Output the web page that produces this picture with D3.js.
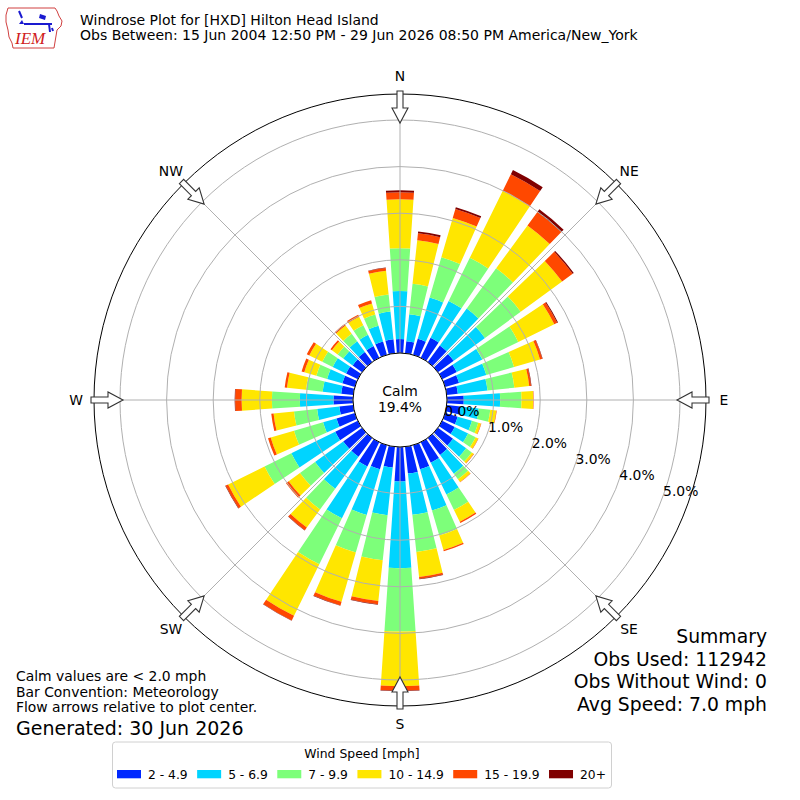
<!DOCTYPE html>
<html>
<head>
<meta charset="utf-8">
<script src="https://cdn.jsdelivr.net/npm/d3@7"></script>
<style>
  body { margin: 0; background: #fff; }
  svg { font-family: "DejaVu Sans", sans-serif; }
</style>
</head>
<body>
<svg id="chart" width="800" height="800"></svg>
<script>
// direction bins (degrees, meteorological: where the wind comes from)
const directions = d3.range(0, 360, 10);

const speedBins = ["2 - 4.9", "5 - 6.9", "7 - 9.9", "10 - 14.9", "15 - 19.9", "20+"];
const binColors = ["#0028ff", "#00d4ff", "#7dff7a", "#ffe600", "#ff4800", "#800000"];

// percent of observations in each speed bin, one value per direction (0..350)
const pct2to5 = [0.30,0.26,0.36,0.48,0.44,0.42,0.35,0.31,0.24,0.36,0.30,0.28,0.30,0.40,0.45,0.49,0.54,0.58,
                 0.74,0.45,0.54,0.58,0.50,0.50,0.54,0.41,0.30,0.42,0.26,0.28,0.28,0.25,0.27,0.28,0.30,0.30];
const pct5to7 = [1.03,0.58,0.92,0.88,0.98,0.83,0.61,0.61,0.64,0.78,0.39,0.32,0.32,0.35,0.50,0.76,0.92,0.89,
                 1.86,1.03,1.02,1.24,0.85,0.75,1.05,0.30,0.48,0.72,0.40,0.34,0.32,0.25,0.28,0.27,0.35,0.60];
const pct7to10 = [0.92,0.66,0.90,1.03,1.07,0.95,0.86,0.62,0.58,0.46,0.25,0.14,0.18,0.15,0.15,0.37,0.56,0.80,
                  1.36,0.97,0.84,1.10,0.55,0.40,0.64,0.65,0.50,0.60,0.36,0.24,0.25,0.15,0.20,0.23,0.25,0.37];
const pct10to15 = [1.05,0.94,0.88,1.60,1.14,1.10,0.86,0.58,0.32,0.25,0.13,0.06,0.06,0.05,0.07,0.28,0.32,0.54,
                   1.17,0.88,1.10,1.23,0.48,0.30,0.87,0.52,0.44,0.65,0.41,0.27,0.31,0.15,0.22,0.20,0.25,0.51];
const pct15to20 = [0.15,0.15,0.20,0.40,0.36,0.28,0.07,0.05,0.04,0.01,0.01,0.01,0.01,0.01,0.01,0.03,0.03,0.04,
                   0.10,0.07,0.08,0.11,0.07,0.07,0.06,0.06,0.05,0.14,0.05,0.06,0.06,0.04,0.04,0.05,0.07,0.06];
const pct20up = [0.04,0.04,0.04,0.10,0.07,0.03,0.02,0.01,0.01,0,0,0,0,0,0,0,0,0.01,
                 0.01,0.01,0.01,0.01,0.01,0,0.01,0,0,0.01,0,0,0,0,0,0,0,0.01];

const ringTicks = [0, 1, 2, 3, 4, 5];
const compassLabels = ["N", "NE", "E", "SE", "S", "SW", "W", "NW"];
const calmPct = 19.4;

const titleLines = [
  "Windrose Plot for [HXD] Hilton Head Island",
  "Obs Between: 15 Jun 2004 12:50 PM - 29 Jun 2026 08:50 PM America/New_York"
];
const summaryLines = ["Summary", "Obs Used: 112942", "Obs Without Wind: 0", "Avg Speed: 7.0 mph"];
const noteLines = ["Calm values are < 2.0 mph", "Bar Convention: Meteorology", "Flow arrows relative to plot center."];
const generatedText = "Generated: 30 Jun 2026";

const svg = d3.select("#chart");
const cx = 400, cy = 400;
const outerR = 306;

const r = d3.scaleLinear().domain([0, 5]).range([47, 280]);
const rad = d => d * Math.PI / 180;

// build table for stacking
const series = [pct2to5, pct5to7, pct7to10, pct10to15, pct15to20, pct20up];
const table = directions.map((d, i) => {
  const row = { dir: d };
  speedBins.forEach((b, j) => row[b] = series[j][i]);
  return row;
});
const stacked = d3.stack().keys(speedBins)(table);

const plot = svg.append("g").attr("transform", `translate(${cx},${cy})`);

const halfWidth = 3.85;
const arc = d3.arc();

plot.selectAll("g.layer")
  .data(stacked)
  .join("g")
  .attr("class", "layer")
  .attr("fill", (d, i) => binColors[i])
  .selectAll("path")
  .data(d => d)
  .join("path")
  .attr("d", d => arc({
    innerRadius: r(d[0]),
    outerRadius: r(d[1]),
    startAngle: rad(d.data.dir - halfWidth),
    endAngle: rad(d.data.dir + halfWidth)
  }));

// grid rings and spokes
plot.selectAll("circle.ring")
  .data(ringTicks)
  .join("circle")
  .attr("class", "ring")
  .attr("r", d => r(d))
  .attr("fill", "none")
  .attr("stroke", "#b0b0b0")
  .attr("stroke-width", 1);

plot.selectAll("line.spoke")
  .data(d3.range(0, 360, 45))
  .join("line")
  .attr("x1", d => r(0) * Math.sin(rad(d)))
  .attr("y1", d => -r(0) * Math.cos(rad(d)))
  .attr("x2", d => outerR * Math.sin(rad(d)))
  .attr("y2", d => -outerR * Math.cos(rad(d)))
  .attr("stroke", "#b0b0b0")
  .attr("stroke-width", 1);

// calm circle
plot.append("circle")
  .attr("r", r(0))
  .attr("fill", "#fff")
  .attr("stroke", "#000")
  .attr("stroke-width", 1);

plot.append("text")
  .attr("text-anchor", "middle")
  .attr("y", -4)
  .style("font-size", "13.9px")
  .text("Calm");
plot.append("text")
  .attr("text-anchor", "middle")
  .attr("y", 11.7)
  .style("font-size", "13.9px")
  .text(calmPct.toFixed(1) + "%");

// outer frame
plot.append("circle")
  .attr("r", outerR)
  .attr("fill", "none")
  .attr("stroke", "#000")
  .attr("stroke-width", 1);

// ring labels
plot.selectAll("text.rlab")
  .data(ringTicks)
  .join("text")
  .attr("class", "rlab")
  .attr("x", d => r(d) * Math.sin(rad(110)))
  .attr("y", d => -r(d) * Math.cos(rad(110)))
  .style("font-size", "13.9px")
  .text(d => d.toFixed(1) + "%");

// flow arrows pointing toward the center
const arrowShape = [[309, -3], [292, -3], [292, -8], [277, 0], [292, 8], [292, 3], [309, 3]];
plot.selectAll("path.arrow")
  .data(d3.range(0, 360, 45))
  .join("path")
  .attr("class", "arrow")
  .attr("d", a => {
    const s = Math.sin(rad(a)), c = Math.cos(rad(a));
    return "M" + arrowShape.map(([al, ac]) =>
      [al * s + ac * c, -al * c + ac * s].map(v => v.toFixed(2)).join(",")).join("L") + "Z";
  })
  .attr("fill", "#fff")
  .attr("stroke", "#333")
  .attr("stroke-width", 1.1)
  .attr("stroke-linejoin", "miter");

// compass labels
plot.selectAll("text.compass")
  .data(compassLabels)
  .join("text")
  .attr("class", "compass")
  .attr("x", (d, i) => 324 * Math.sin(rad(i * 45)))
  .attr("y", (d, i) => -324 * Math.cos(rad(i * 45)))
  .attr("text-anchor", "middle")
  .attr("dominant-baseline", "central")
  .style("font-size", "13.9px")
  .text(d => d);

// titles
svg.selectAll("text.title")
  .data(titleLines)
  .join("text")
  .attr("class", "title")
  .attr("x", 80)
  .attr("y", (d, i) => 24.5 + i * 15.5)
  .style("font-size", "14px")
  .text(d => d);

// IEM logo (simplified)
const logo = svg.append("g");
logo.append("path")
  .attr("d", "M8,8 L55,8 L57,11 L59,16 L62,21 L61,26 L57,30 L56,36 L55,42 L54,48 L13,48 L12,43 L9,37 L8,30 L6,22 L6,15 Z")
  .attr("fill", "none")
  .attr("stroke", "#d04040")
  .attr("stroke-width", 1);
logo.append("text")
  .attr("x", 15).attr("y", 44)
  .style("font-family", "'Liberation Serif', serif")
  .style("font-style", "italic")
  .style("font-size", "17px")
  .attr("fill", "#d02020")
  .text("IEM");
logo.append("path")
  .attr("d", "M24,24 L52,24 M19,11 L22,18 M49,24 L50,32 M52,28 L53,31")
  .attr("stroke", "#1a1ad0").attr("stroke-width", 2).attr("fill", "none");
logo.append("path")
  .attr("d", "M40,14 L46,16 L45,20 L39,18 Z M19,24 L22,20 L24,24 Z")
  .attr("fill", "#1a1ad0");

// summary block
svg.selectAll("text.summary")
  .data(summaryLines)
  .join("text")
  .attr("class", "summary")
  .attr("x", 767)
  .attr("y", (d, i) => 643 + i * 22.6)
  .attr("text-anchor", "end")
  .style("font-size", "18.8px")
  .text(d => d);

// notes
svg.selectAll("text.note")
  .data(noteLines)
  .join("text")
  .attr("class", "note")
  .attr("x", 16)
  .attr("y", (d, i) => 681 + i * 15.7)
  .style("font-size", "13.9px")
  .text(d => d);
svg.append("text")
  .attr("x", 16).attr("y", 735)
  .style("font-size", "19px")
  .text(generatedText);

// legend
const legend = svg.append("g");
legend.append("rect")
  .attr("x", 112.5).attr("y", 742)
  .attr("width", 499).attr("height", 46)
  .attr("rx", 3)
  .attr("fill", "#fff")
  .attr("stroke", "#d0d0d0");
legend.append("text")
  .attr("x", 362).attr("y", 757.5)
  .attr("text-anchor", "middle")
  .style("font-size", "12.4px")
  .text("Wind Speed [mph]");
let lx = 117;
speedBins.forEach((b, i) => {
  legend.append("rect")
    .attr("x", lx).attr("y", 770)
    .attr("width", 24).attr("height", 8.3)
    .attr("fill", binColors[i]);
  const t = legend.append("text")
    .attr("x", lx + 31).attr("y", 778.5)
    .style("font-size", "12.3px")
    .text(b);
  lx += 31 + t.node().getComputedTextLength() + 9.5;
});
</script>
</body>
</html>
